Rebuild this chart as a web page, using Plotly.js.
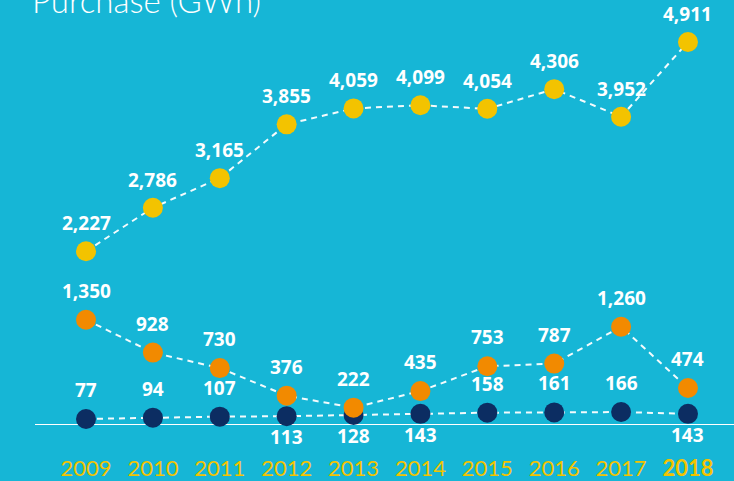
<!DOCTYPE html>
<html>
<head>
<meta charset="utf-8">
<script src="https://cdn.plot.ly/plotly-3.0.1.min.js"></script>
<style>
html,body{margin:0;padding:0;background:#16b6d6;}
#chart{width:734px;height:481px;}
</style>
</head>
<body>
<div id="chart"></div>
<script>
// ---- data ----
const years = [2009, 2010, 2011, 2012, 2013, 2014, 2015, 2016, 2017, 2018];
const yearLabels = ['2009', '2010', '2011', '2012', '2013', '2014', '2015', '2016', '2017', '<b>2018</b>'];
const seriesTop = [2227, 2786, 3165, 3855, 4059, 4099, 4054, 4306, 3952, 4911];
const seriesMid = [1350, 928, 730, 376, 222, 435, 753, 787, 1260, 474];
const seriesLow = [77, 94, 107, 113, 128, 143, 158, 161, 166, 143];

// ---- style ----
const BG = '#16b6d6';
const YELLOW = '#f3c300';
const ORANGE = '#f28a00';
const NAVY = '#0c2d62';
const lowLabelBelow = [false, false, false, true, true, true, false, false, false, true];

function trace(vals, color) {
  return {
    x: years, y: vals, type: 'scatter', mode: 'lines+markers',
    line: {color: 'rgba(255,255,255,0.95)', width: 2, dash: '6px,5px'},
    marker: {color: color, size: 20, line: {width: 0}},
    hoverinfo: 'skip', cliponaxis: false
  };
}

const fmt = v => v.toLocaleString('en-US');
const labelFont = {family: 'Open Sans, sans-serif', size: 19, color: '#ffffff', weight: 700};
const annotations = [];
years.forEach((yr, i) => {
  annotations.push({x: yr, y: seriesTop[i], xref: 'x', yref: 'y', text: fmt(seriesTop[i]),
    showarrow: false, yshift: 28, font: labelFont});
  annotations.push({x: yr, y: seriesMid[i], xref: 'x', yref: 'y', text: fmt(seriesMid[i]),
    showarrow: false, yshift: 29, font: labelFont});
  annotations.push({x: yr, y: seriesLow[i], xref: 'x', yref: 'y', text: fmt(seriesLow[i]),
    showarrow: false, yshift: lowLabelBelow[i] ? -21 : 29, font: labelFont});
});
annotations.push({
  xref: 'paper', yref: 'paper', x: 30/734, y: 1, xanchor: 'left', yanchor: 'middle',
  yshift: 0, showarrow: false, text: 'Purchase (GWh)',
  font: {family: 'Lato, sans-serif', size: 33, color: '#ffffff', weight: 300}
});

const layout = {
  width: 734, height: 481,
  margin: {l: 0, r: 0, t: 0, b: 56},
  paper_bgcolor: BG, plot_bgcolor: BG,
  showlegend: false,
  xaxis: {
    range: [2007.714, 2018.688], showgrid: false, zeroline: false, showline: false,
    tickvals: years, ticktext: yearLabels, ticks: '',
    tickfont: {family: 'Lato, sans-serif', size: 22, color: YELLOW},
    ticklabelstandoff: 28, fixedrange: true
  },
  yaxis: {
    range: [0, 5449], showgrid: false, zeroline: false, showline: false,
    showticklabels: false, ticks: '', fixedrange: true
  },
  shapes: [{
    type: 'line', xref: 'paper', yref: 'y', x0: 35/734, x1: 1, y0: 0, y1: 0,
    line: {color: '#ffffff', width: 2}, layer: 'below'
  }],
  annotations: annotations
};

Plotly.newPlot('chart', [trace(seriesLow, NAVY), trace(seriesMid, ORANGE), trace(seriesTop, YELLOW)], layout, {displayModeBar: false, staticPlot: true});
</script>
</body>
</html>
